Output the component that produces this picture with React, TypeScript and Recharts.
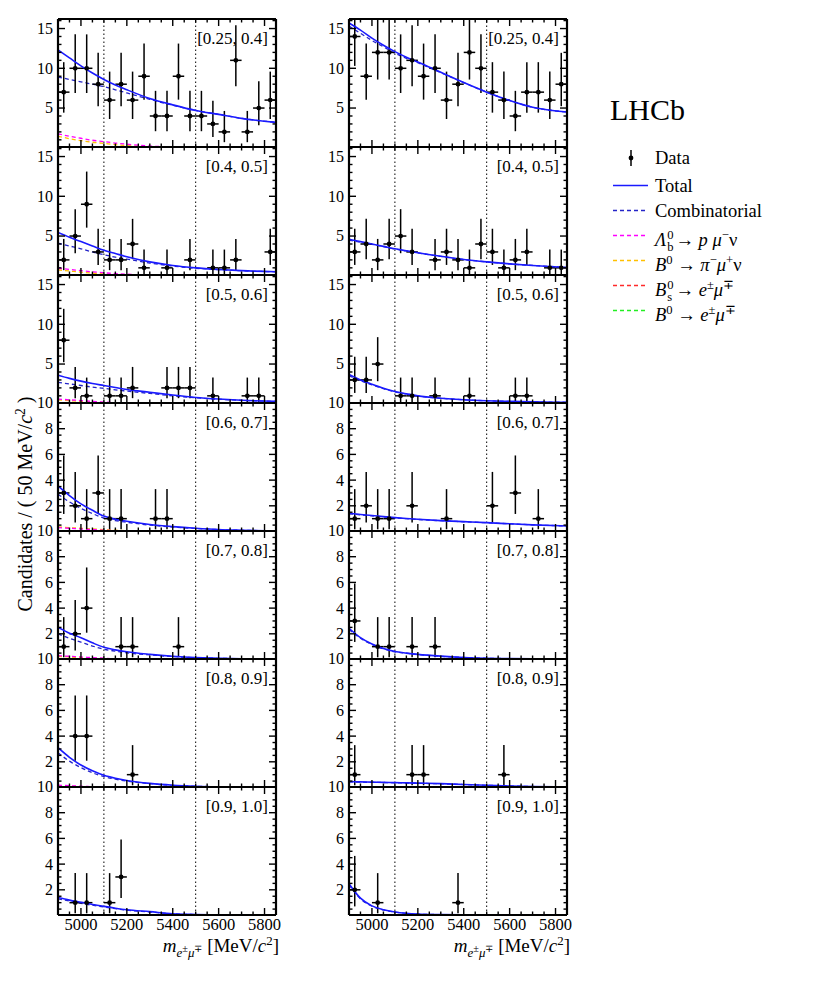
import React from 'react';
import {
  ComposedChart,
  Line,
  Scatter,
  ErrorBar,
  XAxis,
  YAxis,
  ReferenceLine,
} from 'recharts';

// bin centres (50 MeV bins) and the x positions where fit curves are read
const binCenters = [4925, 4975, 5025, 5075, 5125, 5175, 5225, 5275, 5325, 5375, 5425, 5475, 5525, 5575, 5625, 5675, 5725, 5775, 5825];
const curveX = [4900, 4950, 5000, 5050, 5100, 5150, 5200, 5300, 5400, 5500, 5600, 5700, 5850];

const xTicks = [4950, 5000, 5050, 5100, 5150, 5200, 5250, 5300, 5350, 5400, 5450, 5500, 5550, 5600, 5650, 5700, 5750, 5800];
const xLabels = [5000, 5200, 5400, 5600, 5800];
const yTicksTall = [1, 2, 3, 4, 5, 6, 7, 8, 9, 10, 11, 12, 13, 14, 15, 16];
const yLabelsTall = [5, 10, 15];
const yTicksShort = [0.5, 1, 1.5, 2, 2.5, 3, 3.5, 4, 4.5, 5, 5.5, 6, 6.5, 7, 7.5, 8, 8.5, 9, 9.5, 10];
const yLabelsShort = [2, 4, 6, 8, 10];

const binLabels = ['[0.25, 0.4]', '[0.4, 0.5]', '[0.5, 0.6]', '[0.6, 0.7]', '[0.7, 0.8]', '[0.8, 0.9]', '[0.9, 1.0]'];

// 68% Poisson intervals for n = 0..15 entries (lower, upper)
const poissonLow = [0, 0.827, 1.292, 1.633, 1.914, 2.159, 2.379, 2.58, 2.768, 2.944, 3.109, 3.265, 3.415, 3.559, 3.698, 3.832];
const poissonHigh = [1.841, 2.299, 2.638, 2.918, 3.163, 3.383, 3.583, 3.77, 3.945, 4.11, 4.267, 4.416, 4.559, 4.697, 4.83, 4.958];

// candidates per bin
const countsL1 = [7, 10, 10, 8, 6, 8, 6, 9, 4, 4, 9, 4, 4, 3, 2, 11, 2, 5, 6];
const countsR1 = [14, 9, 12, 12, 10, 11, 9, 10, 6, 8, 12, 10, 7, 6, 4, 7, 7, 6, 8];
const countsL2 = [2, 5, 9, 3, 2, 2, 4, 1, 0, 1, 0, 2, 0, 1, 1, 2, 0, 0, 3];
const countsR2 = [3, 4, 2, 4, 5, 3, 0, 2, 3, 2, 1, 4, 3, 1, 2, 3, 0, 1, 1];
const countsL3 = [8, 2, 1, 0, 1, 1, 2, 0, 0, 2, 2, 2, 0, 1, 0, 0, 1, 1, 0];
const countsR3 = [3, 3, 5, 0, 1, 1, 0, 1, 0, 0, 1, 0, 0, 0, 1, 1, 0, 0, 0];
const countsL4 = [3, 2, 1, 3, 1, 1, 0, 0, 1, 1, 0, 0, 0, 0, 0, 0, 0, 0, 0];
const countsR4 = [1, 2, 1, 1, 0, 2, 0, 0, 1, 0, 0, 0, 2, 0, 3, 0, 1, 0, 0];
const countsL5 = [1, 2, 4, 0, 0, 1, 1, 0, 0, 0, 1, 0, 0, 0, 0, 0, 0, 0, 0];
const countsR5 = [3, 0, 1, 1, 0, 1, 0, 1, 0, 0, 0, 0, 0, 0, 0, 0, 0, 0, 0];
const countsL6 = [0, 4, 4, 0, 0, 0, 1, 0, 0, 0, 0, 0, 0, 0, 0, 0, 0, 0, 0];
const countsR6 = [1, 0, 0, 0, 0, 1, 1, 0, 0, 0, 0, 0, 0, 1, 0, 0, 0, 0, 0];
const countsL7 = [0, 1, 1, 0, 1, 3, 0, 0, 0, 0, 0, 0, 0, 0, 0, 0, 0, 0, 0];
const countsR7 = [2, 0, 1, 0, 0, 0, 0, 0, 0, 1, 0, 0, 0, 0, 0, 0, 0, 0, 0];

// fit curves, read at curveX
const totalL1 = [12.3, 11.3, 10.3, 9.4, 8.6, 7.9, 7.3, 6.2, 5.4, 4.7, 4.2, 3.7, 3.2];
const combL1 = [8.9, 8.6, 8.3, 8.0, 7.7, 7.3, 6.9, 6.1, 5.35, 4.7, 4.2, 3.7, 3.2];
const lambdaL1 = [1.75, 1.45, 1.2, 0.95, 0.78, 0.6, 0.45, 0.22, 0.1, 0.04, 0.02, 0.01, 0];
const piL1 = [1.45, 1.15, 0.9, 0.7, 0.55, 0.4, 0.28, 0.12, 0.05, 0.02, 0.01, 0, 0];
const totalR1 = [15.7, 14.8, 13.8, 12.9, 12.1, 11.4, 10.8, 9.5, 8.2, 7.0, 5.95, 5.1, 4.5];
const combR1 = [15.3, 14.4, 13.5, 12.7, 11.9, 11.25, 10.7, 9.45, 8.2, 7.0, 5.95, 5.1, 4.5];

const totalL2 = [5.45, 4.85, 4.3, 3.75, 3.2, 2.8, 2.4, 1.75, 1.3, 1.0, 0.8, 0.65, 0.5];
const combL2 = [4.1, 3.75, 3.4, 3.0, 2.65, 2.35, 2.1, 1.6, 1.22, 0.95, 0.78, 0.64, 0.5];
const lambdaL2 = [0.95, 0.8, 0.65, 0.5, 0.38, 0.28, 0.2, 0.09, 0.04, 0.02, 0, 0, 0];
const piL2 = [0.75, 0.6, 0.45, 0.33, 0.23, 0.15, 0.1, 0.04, 0.02, 0, 0, 0, 0];
const totalR2 = [4.6, 4.3, 4.0, 3.7, 3.4, 3.15, 2.9, 2.45, 2.05, 1.75, 1.5, 1.3, 1.05];
const combR2 = [4.5, 4.22, 3.95, 3.66, 3.37, 3.13, 2.88, 2.44, 2.05, 1.75, 1.5, 1.3, 1.05];

const totalL3 = [3.6, 3.2, 2.85, 2.55, 2.3, 2.05, 1.8, 1.45, 1.1, 0.8, 0.6, 0.45, 0.3];
const combL3 = [2.7, 2.5, 2.3, 2.1, 1.95, 1.75, 1.6, 1.3, 1.0, 0.75, 0.57, 0.43, 0.3];
const lambdaL3 = [0.6, 0.5, 0.4, 0.3, 0.22, 0.15, 0.1, 0.04, 0.01, 0, 0, 0, 0];
const piL3 = [0.5, 0.4, 0.3, 0.22, 0.15, 0.1, 0.06, 0.02, 0, 0, 0, 0, 0];
const totalR3 = [3.7, 3.0, 2.45, 1.95, 1.55, 1.25, 1.0, 0.7, 0.5, 0.38, 0.3, 0.24, 0.19];
const combR3 = [3.55, 2.9, 2.38, 1.9, 1.52, 1.23, 0.99, 0.7, 0.5, 0.38, 0.3, 0.24, 0.19];

const totalL4 = [3.55, 2.8, 2.15, 1.65, 1.2, 0.95, 0.8, 0.55, 0.38, 0.25, 0.15, 0.1, 0.05];
const combL4 = [2.9, 2.3, 1.8, 1.4, 1.05, 0.85, 0.72, 0.5, 0.35, 0.24, 0.15, 0.1, 0.05];
const lambdaL4 = [0.3, 0.25, 0.2, 0.15, 0.1, 0.07, 0.04, 0, 0, 0, 0, 0, 0];
const piL4 = [0.35, 0.3, 0.25, 0.2, 0.15, 0.1, 0.06, 0.01, 0, 0, 0, 0, 0];
const totalR4 = [1.42, 1.33, 1.25, 1.16, 1.08, 1.01, 0.95, 0.85, 0.77, 0.69, 0.6, 0.52, 0.43];
const combR4 = [1.38, 1.3, 1.22, 1.14, 1.06, 1.0, 0.94, 0.84, 0.76, 0.68, 0.6, 0.52, 0.43];

const totalL5 = [2.5, 2.05, 1.7, 1.3, 0.95, 0.75, 0.6, 0.4, 0.25, 0.15, 0.1, 0.06, 0.04];
const combL5 = [2.0, 1.65, 1.35, 1.05, 0.8, 0.65, 0.52, 0.36, 0.23, 0.14, 0.09, 0.06, 0.04];
const lambdaL5 = [0.3, 0.25, 0.2, 0.15, 0.1, 0.06, 0.03, 0, 0, 0, 0, 0, 0];
const piL5 = [0.25, 0.2, 0.15, 0.1, 0.07, 0.04, 0.02, 0, 0, 0, 0, 0, 0];
const totalR5 = [2.43, 1.7, 1.2, 0.85, 0.62, 0.5, 0.4, 0.26, 0.16, 0.1, 0.07, 0.05, 0.04];
const combR5 = [2.35, 1.65, 1.17, 0.83, 0.6, 0.49, 0.39, 0.25, 0.16, 0.1, 0.07, 0.05, 0.04];

const totalL6 = [3.1, 2.35, 1.75, 1.3, 0.95, 0.72, 0.55, 0.32, 0.18, 0.1, 0.06, 0.04, 0.03];
const combL6 = [2.7, 2.05, 1.55, 1.15, 0.85, 0.65, 0.5, 0.3, 0.17, 0.1, 0.06, 0.04, 0.03];
const lambdaL6 = [0.18, 0.14, 0.1, 0.07, 0.04, 0.02, 0, 0, 0, 0, 0, 0, 0];
const piL6 = [0.15, 0.1, 0.07, 0.04, 0.02, 0, 0, 0, 0, 0, 0, 0, 0];
const totalR6 = [0.46, 0.44, 0.42, 0.4, 0.38, 0.36, 0.34, 0.3, 0.24, 0.18, 0.12, 0.08, 0.04];
const combR6 = [0.44, 0.42, 0.4, 0.39, 0.37, 0.35, 0.33, 0.29, 0.23, 0.17, 0.12, 0.08, 0.04];

const totalL7 = [1.4, 1.2, 1.03, 0.86, 0.71, 0.57, 0.45, 0.3, 0.14, 0.08, 0.05, 0.04, 0.03];
const combL7 = [1.3, 1.12, 0.95, 0.8, 0.66, 0.53, 0.42, 0.28, 0.13, 0.07, 0.05, 0.04, 0.03];
const totalR7 = [2.47, 1.35, 0.75, 0.45, 0.28, 0.18, 0.12, 0.07, 0.05, 0.04, 0.03, 0.03, 0.03];
const combR7 = [2.4, 1.3, 0.72, 0.43, 0.27, 0.17, 0.11, 0.07, 0.05, 0.04, 0.03, 0.03, 0.03];

const leftPanels = [
  { counts: countsL1, total: totalL1, comb: combL1, lambda: lambdaL1, pi: piL1 },
  { counts: countsL2, total: totalL2, comb: combL2, lambda: lambdaL2, pi: piL2 },
  { counts: countsL3, total: totalL3, comb: combL3, lambda: lambdaL3, pi: piL3 },
  { counts: countsL4, total: totalL4, comb: combL4, lambda: lambdaL4, pi: piL4 },
  { counts: countsL5, total: totalL5, comb: combL5, lambda: lambdaL5, pi: piL5 },
  { counts: countsL6, total: totalL6, comb: combL6, lambda: lambdaL6, pi: piL6 },
  { counts: countsL7, total: totalL7, comb: combL7, lambda: null, pi: null },
];
const rightPanels = [
  { counts: countsR1, total: totalR1, comb: combR1, lambda: null, pi: null },
  { counts: countsR2, total: totalR2, comb: combR2, lambda: null, pi: null },
  { counts: countsR3, total: totalR3, comb: combR3, lambda: null, pi: null },
  { counts: countsR4, total: totalR4, comb: combR4, lambda: null, pi: null },
  { counts: countsR5, total: totalR5, comb: combR5, lambda: null, pi: null },
  { counts: countsR6, total: totalR6, comb: combR6, lambda: null, pi: null },
  { counts: countsR7, total: totalR7, comb: combR7, lambda: null, pi: null },
];

const FONT = '"Liberation Serif", "Times New Roman", serif';
const C_TOTAL = '#1a1aff';
const C_COMB = '#2424c8';
const C_LAMBDA = '#ff00ff';
const C_PI = '#ffc000';
const C_BS = '#ff2a2a';
const C_BD = '#22ee22';

const PW = 218;
const PH = 128;
const ML = 40;
const MT = 8;
const colX = [58, 349];
const rowY0 = 19;

const makeTick = (side: string, majors: number[], labelled: boolean) => (props: any) => {
  const { x, y, payload } = props;
  const v = payload.value;
  const major = majors.includes(v);
  const len = major ? 7 : 3.5;
  let line;
  if (side === 'left') line = <line x1={x} y1={y} x2={x + len} y2={y} stroke="#000" strokeWidth={1.4} />;
  else if (side === 'right') line = <line x1={x} y1={y} x2={x - len} y2={y} stroke="#000" strokeWidth={1.4} />;
  else if (side === 'bottom') line = <line x1={x} y1={y} x2={x} y2={y - len} stroke="#000" strokeWidth={1.4} />;
  else line = <line x1={x} y1={y} x2={x} y2={y + len} stroke="#000" strokeWidth={1.4} />;
  let label = null;
  if (labelled && major) {
    if (side === 'left') {
      label = (
        <text x={x - 5} y={y} dy="0.34em" textAnchor="end" fontFamily={FONT} fontSize={16} fill="#000">
          {v}
        </text>
      );
    } else if (side === 'bottom') {
      label = (
        <text x={x} y={y + 14.5} textAnchor="middle" fontFamily={FONT} fontSize={16.5} fill="#000">
          {v}
        </text>
      );
    }
  }
  return (
    <g>
      {line}
      {label}
    </g>
  );
};

const dot = (p: any) => <circle cx={p.cx} cy={p.cy} r={2.4} fill="#000" />;

function Panel({ col, row, panel }: { col: number; row: number; panel: any }) {
  const tall = row < 3;
  const yDomain = tall ? [0.1, 16.2] : [0.04, 10];
  const yTicks = tall ? yTicksTall : yTicksShort;
  const yMajors = tall ? yLabelsTall : yLabelsShort;
  const isBottom = row === 6;
  const x0 = colX[col];
  const y0 = rowY0 + row * PH;

  // error bars are cut at the frame, as in the original plot
  const points = binCenters
    .map((x, i) => {
      const n = panel.counts[i];
      return {
        x,
        y: n,
        ey: [Math.min(poissonLow[n], n - yDomain[0]), Math.min(poissonHigh[n], yDomain[1] - n)],
        ex: 25,
      };
    })
    .filter((d) => d.y > 0);
  const curve = (arr: number[]) => curveX.map((x, i) => ({ x, y: arr[i] }));

  return (
    <div style={{ position: 'absolute', left: x0 - ML, top: y0 - MT }}>
      <ComposedChart width={ML + PW + 8} height={MT + PH + 8} margin={{ top: MT - 1, right: 7, bottom: 7, left: 0 }}>
        <XAxis
          type="number"
          dataKey="x"
          domain={[4900, 5850]}
          allowDataOverflow
          ticks={xTicks}
          interval={0}
          height={1}
          tickSize={0}
          tickMargin={0}
          tickLine={false}
          axisLine={{ stroke: '#000', strokeWidth: 2.2 }}
          tick={makeTick('bottom', xLabels, isBottom)}
        />
        <XAxis
          xAxisId="top"
          orientation="top"
          type="number"
          dataKey="x"
          domain={[4900, 5850]}
          allowDataOverflow
          ticks={xTicks}
          interval={0}
          height={1}
          tickSize={0}
          tickMargin={0}
          tickLine={false}
          axisLine={{ stroke: '#000', strokeWidth: 2.2 }}
          tick={makeTick('top', xLabels, false)}
        />
        <YAxis
          type="number"
          dataKey="y"
          domain={yDomain}
          allowDataOverflow
          ticks={yTicks}
          interval={0}
          width={ML}
          tickSize={0}
          tickMargin={0}
          tickLine={false}
          axisLine={{ stroke: '#000', strokeWidth: 2.2 }}
          tick={makeTick('left', yMajors, true)}
        />
        <YAxis
          yAxisId="right"
          orientation="right"
          type="number"
          domain={yDomain}
          allowDataOverflow
          ticks={yTicks}
          interval={0}
          width={1}
          tickSize={0}
          tickMargin={0}
          tickLine={false}
          axisLine={{ stroke: '#000', strokeWidth: 2.2 }}
          tick={makeTick('right', yMajors, false)}
        />
        <ReferenceLine x={5100} stroke="#000" strokeWidth={1} strokeDasharray="1.5 2.5" />
        <ReferenceLine x={5500} stroke="#000" strokeWidth={1} strokeDasharray="1.5 2.5" />
        {panel.pi && (
          <Line data={curve(panel.pi)} dataKey="y" type="monotone" dot={false} stroke={C_PI} strokeWidth={1.3} strokeDasharray="4 3" isAnimationActive={false} />
        )}
        {panel.lambda && (
          <Line data={curve(panel.lambda)} dataKey="y" type="monotone" dot={false} stroke={C_LAMBDA} strokeWidth={1.3} strokeDasharray="4 3" isAnimationActive={false} />
        )}
        <Line data={curve(panel.comb)} dataKey="y" type="monotone" dot={false} stroke={C_COMB} strokeWidth={1.3} strokeDasharray="4 3" isAnimationActive={false} />
        <Scatter data={points} dataKey="y" shape={dot} isAnimationActive={false}>
          <ErrorBar dataKey="ey" direction="y" width={0} stroke="#000" strokeWidth={1.5} isAnimationActive={false} />
          <ErrorBar dataKey="ex" direction="x" width={0} stroke="#000" strokeWidth={1.5} isAnimationActive={false} />
        </Scatter>
        <Line data={curve(panel.total)} dataKey="y" type="monotone" dot={false} stroke={C_TOTAL} strokeWidth={1.6} isAnimationActive={false} />
      </ComposedChart>
    </div>
  );
}

const SupSub = ({ sup, sub }: { sup: string; sub: string }) => (
  <span
    style={{
      display: 'inline-flex',
      flexDirection: 'column',
      fontSize: '0.68em',
      lineHeight: '1em',
      verticalAlign: '0.6em',
      marginLeft: 1,
      marginRight: 2,
    }}
  >
    <span>{sup}</span>
    <span>{sub}</span>
  </span>
);

const sup = (s: string) => <span style={{ fontSize: '0.68em', verticalAlign: '0.55em' }}>{s}</span>;

const legendItems = [
  { kind: 'data', color: '#000', dash: '', label: <span>Data</span> },
  { kind: 'line', color: C_TOTAL, dash: '', label: <span>Total</span> },
  { kind: 'line', color: C_COMB, dash: '4 3', label: <span>Combinatorial</span> },
  {
    kind: 'line',
    color: C_LAMBDA,
    dash: '4 3',
    label: (
      <span>
        <i>Λ</i>
        <SupSub sup="0" sub="b" />→ <i>p</i> <i>μ</i>
        {sup('−')}ν
      </span>
    ),
  },
  {
    kind: 'line',
    color: C_PI,
    dash: '4 3',
    label: (
      <span>
        <i>B</i>
        {sup('0')} → <i>π</i>
        {sup('−')}
        <i>μ</i>
        {sup('+')}ν
      </span>
    ),
  },
  {
    kind: 'line',
    color: C_BS,
    dash: '4 3',
    label: (
      <span>
        <i>B</i>
        <SupSub sup="0" sub="s" />→ <i>e</i>
        {sup('±')}
        <i>μ</i>
        {sup('∓')}
      </span>
    ),
  },
  {
    kind: 'line',
    color: C_BD,
    dash: '4 3',
    label: (
      <span>
        <i>B</i>
        {sup('0')} → <i>e</i>
        {sup('±')}
        <i>μ</i>
        {sup('∓')}
      </span>
    ),
  },
];
const legendY = [158, 185.5, 210.5, 235.5, 260.5, 285.5, 310.5];

export default function App() {
  return (
    <div style={{ position: 'absolute', left: 0, top: 0, width: 830, height: 984, background: '#fff', fontFamily: FONT, color: '#000' }}>
      <style>{'.recharts-surface{overflow:visible}'}</style>
      {leftPanels.map((p, r) => (
        <Panel key={'l' + r} col={0} row={r} panel={p} />
      ))}
      {rightPanels.map((p, r) => (
        <Panel key={'r' + r} col={1} row={r} panel={p} />
      ))}
      {binLabels.map((t, r) =>
        colX.map((x0) => (
          <div
            key={t + x0}
            style={{ position: 'absolute', left: x0, width: PW - 8, top: rowY0 + r * PH + 10, lineHeight: '20px', fontSize: 17, textAlign: 'right', whiteSpace: 'nowrap' }}
          >
            {t}
          </div>
        ))
      )}
      {colX.map((x0) => (
        <div
          key={'xt' + x0}
          style={{ position: 'absolute', left: x0 + PW + 3 - 300, width: 300, top: 931, lineHeight: '19px', fontSize: 19, textAlign: 'right', whiteSpace: 'nowrap' }}
        >
          <i>m</i>
          <span style={{ fontSize: '0.68em', verticalAlign: '-0.35em' }}>
            <i>e</i>
            <span style={{ fontSize: '0.8em', verticalAlign: '0.5em' }}>±</span>
            <i>μ</i>
            <span style={{ fontSize: '0.8em', verticalAlign: '0.5em' }}>∓</span>
          </span>{' '}
          [MeV/<i>c</i>
          {sup('2')}]
        </div>
      ))}
      <div
        style={{
          position: 'absolute',
          left: 20.5 - 140,
          top: 503.5 - 12,
          width: 280,
          height: 24,
          lineHeight: '24px',
          fontSize: 20,
          textAlign: 'center',
          transform: 'rotate(-90deg)',
          whiteSpace: 'nowrap',
        }}
      >
        Candidates / ( 50 MeV/<i>c</i>
        {sup('2')} )
      </div>
      <div style={{ position: 'absolute', left: 610, top: 95, fontSize: 30, lineHeight: '30px' }}>LHCb</div>
      <svg style={{ position: 'absolute', left: 600, top: 140 }} width={60} height={190}>
        {legendItems.map((it, i) => {
          const cy = legendY[i] - 140;
          if (it.kind === 'data') {
            return (
              <g key={i}>
                <line x1={31} x2={31} y1={cy - 8} y2={cy + 8} stroke="#000" strokeWidth={1.5} />
                <circle cx={31} cy={cy} r={2.4} fill="#000" />
              </g>
            );
          }
          return <line key={i} x1={13} x2={48} y1={cy} y2={cy} stroke={it.color} strokeWidth={1.6} strokeDasharray={it.dash || undefined} />;
        })}
      </svg>
      {legendItems.map((it, i) => (
        <div key={'lt' + i} style={{ position: 'absolute', left: 655, top: legendY[i] - 11, height: 22, lineHeight: '22px', fontSize: 18.5, whiteSpace: 'nowrap' }}>
          {it.label}
        </div>
      ))}
    </div>
  );
}
